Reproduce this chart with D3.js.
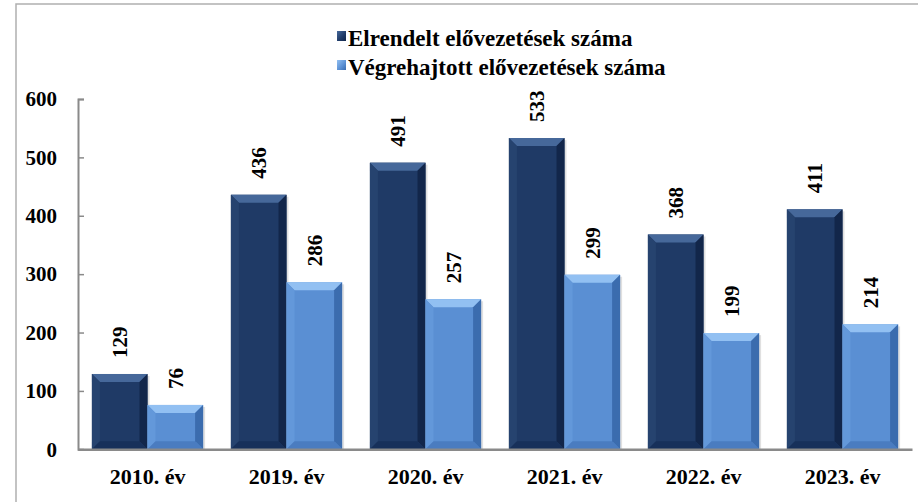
<!DOCTYPE html>
<html>
<head>
<meta charset="utf-8">
<script src="https://cdn.jsdelivr.net/npm/d3@7"></script>
<style>
  body { margin: 0; background: #fff; }
  text { font-family: "Liberation Serif", "Times New Roman", serif; font-weight: bold; fill: #000; }
</style>
</head>
<body>
<div id="chart"></div>
<script>
const years = ["2010. év", "2019. év", "2020. év", "2021. év", "2022. év", "2023. év"];
const seriesNames = ["Elrendelt elővezetések száma", "Végrehajtott elővezetések száma"];
const ordered = [129, 436, 491, 533, 368, 411];
const executed = [76, 286, 257, 299, 199, 214];
const yTicks = [0, 100, 200, 300, 400, 500, 600];

const width = 918;
const height = 502;

const data = years.map((y, i) => ({ year: y, values: [ordered[i], executed[i]] }));

const svg = d3.select("#chart").append("svg")
  .attr("width", width)
  .attr("height", height);

// colours: main, top bevel, left edge, right edge, bottom edge
const palette = [
  { main: "#1f3a66", top: "#46689a", left: "#26436f", right: "#12264a", bottom: "#17305a" },
  { main: "#5a8fd3", top: "#92c0f2", left: "#6398da", right: "#3b6cae", bottom: "#4a7cc0" }
];

const defs = svg.append("defs");
palette.forEach((p, i) => {
  const g = defs.append("linearGradient").attr("id", "leg" + i)
    .attr("x1", 0).attr("y1", 0).attr("x2", 1).attr("y2", 1);
  g.append("stop").attr("offset", "0%").attr("stop-color", p.top);
  g.append("stop").attr("offset", "60%").attr("stop-color", p.main);
  g.append("stop").attr("offset", "100%").attr("stop-color", p.right);
});

// frame
svg.append("path")
  .attr("d", "M16,502V4H918")
  .attr("fill", "none")
  .attr("stroke", "#b0b0b0")
  .attr("stroke-width", 1.5);

const x0 = d3.scaleBand()
  .domain(years)
  .range([78, 912])
  .paddingInner(0.2)
  .paddingOuter(0.1);

const x1 = d3.scaleBand()
  .domain([0, 1])
  .range([0, x0.bandwidth()]);

const y = d3.scaleLinear()
  .domain([0, 600])
  .range([449.3, 99]);

// y axis
const yAxis = d3.axisLeft(y)
  .tickValues(yTicks)
  .tickSizeInner(-6)
  .tickSizeOuter(-6)
  .tickPadding(21);

const yg = svg.append("g")
  .attr("transform", "translate(78,0)")
  .call(yAxis);
yg.select(".domain").attr("stroke", "#8a8a8a").attr("stroke-width", 2);
yg.selectAll(".tick line").attr("stroke", "#8a8a8a").attr("stroke-width", 1.5);
yg.selectAll(".tick text").attr("font-size", 21).attr("font-family", null);

// bars
const groups = svg.append("g").selectAll("g")
  .data(data)
  .join("g")
  .attr("transform", d => `translate(${x0(d.year)},0)`);

const bars = groups.selectAll("g.bar")
  .data(d => d.values.map((v, i) => ({ v, i })))
  .join("g")
  .attr("class", "bar");

const bev = 8;
bars.each(function(d) {
  const g = d3.select(this);
  const p = palette[d.i];
  const bx = x1(d.i);
  const bw = x1.bandwidth();
  const by = y(d.v);
  const bb = y(0);
  const b = Math.min(bev, (bb - by) / 2);

  // soft shadow
  g.append("rect")
    .attr("x", bx + 2).attr("y", by + 2)
    .attr("width", bw).attr("height", bb - by - 2)
    .attr("fill", "#000").attr("opacity", 0.12);

  g.append("rect")
    .attr("x", bx).attr("y", by)
    .attr("width", bw).attr("height", bb - by)
    .attr("fill", p.main);

  g.append("path")
    .attr("d", `M${bx},${by}H${bx + bw}L${bx + bw - b},${by + b}H${bx + b}Z`)
    .attr("fill", p.top);
  g.append("path")
    .attr("d", `M${bx},${by}L${bx + b},${by + b}V${bb - b}L${bx},${bb}Z`)
    .attr("fill", p.left);
  g.append("path")
    .attr("d", `M${bx + bw},${by}L${bx + bw - b},${by + b}V${bb - b}L${bx + bw},${bb}Z`)
    .attr("fill", p.right);
  g.append("path")
    .attr("d", `M${bx},${bb}L${bx + b},${bb - b}H${bx + bw - b}L${bx + bw},${bb}Z`)
    .attr("fill", p.bottom);
});

// value labels
bars.append("text")
  .attr("transform", d => `translate(${x1(d.i) + x1.bandwidth() / 2},${y(d.v) - 16}) rotate(-90)`)
  .attr("dy", "0.35em")
  .attr("text-anchor", "start")
  .attr("font-size", 21)
  .text(d => d.v);

// x axis
const xAxis = d3.axisBottom(x0)
  .tickSizeInner(0)
  .tickSizeOuter(0)
  .tickPadding(19);

const xg = svg.append("g")
  .attr("transform", `translate(0,${y(0)})`)
  .call(xAxis);
xg.select(".domain").attr("stroke", "#8a8a8a").attr("stroke-width", 2.5);
xg.selectAll(".tick text").attr("font-size", 22).attr("font-family", null);

// legend
const legend = svg.append("g").selectAll("g")
  .data(seriesNames)
  .join("g")
  .attr("transform", (d, i) => `translate(337,${31 + i * 29})`);

legend.append("rect")
  .attr("width", 9).attr("height", 10)
  .attr("fill", (d, i) => `url(#leg${i})`);

legend.append("text")
  .attr("x", 11)
  .attr("y", 15)
  .attr("font-size", 23)
  .text(d => d);
</script>
</body>
</html>
